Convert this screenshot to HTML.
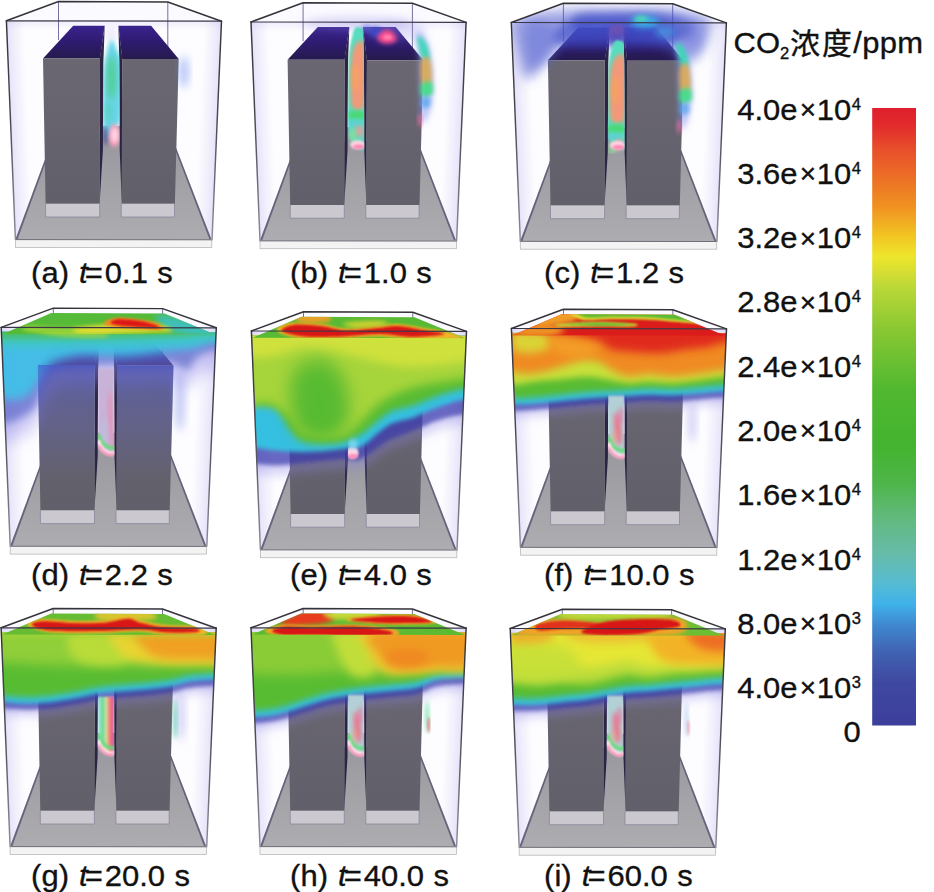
<!DOCTYPE html>
<html><head><meta charset="utf-8"><title>CO2 concentration</title>
<style>
html,body{margin:0;padding:0;background:#fff;}
body{width:934px;height:892px;overflow:hidden;}
svg{display:block;}
text{font-family:"Liberation Sans",sans-serif;fill:#111;stroke:#111;stroke-width:0.35px;}
</style></head><body>
<svg width="934" height="892" viewBox="0 0 934 892">
<defs>
<linearGradient id="gTop" x1="0" y1="25" x2="0" y2="59" gradientUnits="userSpaceOnUse">
  <stop offset="0" stop-color="#3a2390"/><stop offset="0.5" stop-color="#2e1b70"/><stop offset="1" stop-color="#261a4c"/>
</linearGradient>
<linearGradient id="gSide" x1="0" y1="20" x2="0" y2="240" gradientUnits="userSpaceOnUse">
  <stop offset="0" stop-color="#34333a"/><stop offset="0.45" stop-color="#4a4952"/><stop offset="1" stop-color="#8d8c98"/>
</linearGradient>
<linearGradient id="gFloor" x1="0" y1="140" x2="0" y2="240" gradientUnits="userSpaceOnUse">
  <stop offset="0" stop-color="#98989e"/><stop offset="1" stop-color="#adadb1"/>
</linearGradient>
<linearGradient id="gEdgeL" x1="6.4" y1="20.8" x2="23.98" y2="20.08" gradientUnits="userSpaceOnUse">
  <stop offset="0" stop-color="#8478e0" stop-opacity="0.2"/><stop offset="0.35" stop-color="#8478e0" stop-opacity="0.12"/><stop offset="1" stop-color="#8478e0" stop-opacity="0"/>
</linearGradient>
<linearGradient id="gEdgeR" x1="221.5" y1="21.2" x2="203.92" y2="20.44" gradientUnits="userSpaceOnUse">
  <stop offset="0" stop-color="#8478e0" stop-opacity="0.2"/><stop offset="0.35" stop-color="#8478e0" stop-opacity="0.12"/><stop offset="1" stop-color="#8478e0" stop-opacity="0"/>
</linearGradient>
<linearGradient id="gEdgeT" x1="0" y1="0" x2="0" y2="1">
  <stop offset="0" stop-color="#8478e0" stop-opacity="0.12"/><stop offset="1" stop-color="#8478e0" stop-opacity="0"/>
</linearGradient>
<linearGradient id="gFront" x1="0" y1="58" x2="0" y2="204" gradientUnits="userSpaceOnUse">
  <stop offset="0" stop-color="#6a6772"/><stop offset="1" stop-color="#615f69"/>
</linearGradient>
<linearGradient id="gBar" x1="0" y1="108" x2="0" y2="725.5" gradientUnits="userSpaceOnUse">
<stop offset="0.0000" stop-color="#df1f2d"/><stop offset="0.0275" stop-color="#e22a2b"/><stop offset="0.0680" stop-color="#e8502a"/><stop offset="0.1166" stop-color="#ec7226"/><stop offset="0.1603" stop-color="#f09222"/><stop offset="0.2057" stop-color="#f2c322"/><stop offset="0.2397" stop-color="#eee52c"/><stop offset="0.2656" stop-color="#d6de33"/><stop offset="0.2883" stop-color="#bcd838"/><stop offset="0.3595" stop-color="#88c832"/><stop offset="0.4567" stop-color="#50b830"/><stop offset="0.5474" stop-color="#44b32f"/><stop offset="0.6057" stop-color="#4db548"/><stop offset="0.6640" stop-color="#62ba7e"/><stop offset="0.7206" stop-color="#66bba8"/><stop offset="0.7676" stop-color="#58bcd0"/><stop offset="0.8032" stop-color="#3fb2ea"/><stop offset="0.8372" stop-color="#3f88d0"/><stop offset="0.8842" stop-color="#4060b0"/><stop offset="0.9312" stop-color="#3f48a0"/><stop offset="1.0000" stop-color="#3c3f9c"/>
</linearGradient>
<filter id="b1" x="-50%" y="-50%" width="200%" height="200%"><feGaussianBlur stdDeviation="1"/></filter>
<filter id="b2" x="-50%" y="-50%" width="200%" height="200%"><feGaussianBlur stdDeviation="2"/></filter>
<filter id="b3" x="-50%" y="-50%" width="200%" height="200%"><feGaussianBlur stdDeviation="3"/></filter>
<filter id="b4" x="-50%" y="-50%" width="200%" height="200%"><feGaussianBlur stdDeviation="4"/></filter>
<filter id="b5" x="-50%" y="-50%" width="200%" height="200%"><feGaussianBlur stdDeviation="5"/></filter>
<filter id="b10" x="-50%" y="-50%" width="200%" height="200%"><feGaussianBlur stdDeviation="10"/></filter>
<filter id="b6" x="-50%" y="-50%" width="200%" height="200%"><feGaussianBlur stdDeviation="6"/></filter>
<filter id="b8" x="-50%" y="-50%" width="200%" height="200%"><feGaussianBlur stdDeviation="8"/></filter>
<filter id="b12" x="-50%" y="-50%" width="200%" height="200%"><feGaussianBlur stdDeviation="12"/></filter>

<clipPath id="cBox"><polygon points="6.4,20.8 58.5,1.5 167.8,2 221.5,21.2 212,239.7 15.4,239.4"/></clipPath>
<clipPath id="cFront"><polygon points="6.6,25 221.3,25.6 212,239.7 15.4,239.4"/></clipPath>
<clipPath id="cTop"><polygon points="7.5,27.6 56.5,6.5 169.5,7 220.5,28"/></clipPath>
<clipPath id="cTowers"><polygon points="43,58.5 100,58.5 99.8,203.8 45.6,203.8"/><polygon points="122.2,59 178.7,59.1 174.9,203.8 121.6,203.8"/></clipPath>
<clipPath id="cGap"><polygon points="104.7,22 118.4,22 119.3,59 119.8,152 102.8,152 103.4,59"/></clipPath>
<linearGradient id="gPlA" x1="0" y1="36" x2="0" y2="148" gradientUnits="userSpaceOnUse">
 <stop offset="0" stop-color="#9ad8f0" stop-opacity="0.2"/><stop offset="0.15" stop-color="#62d6ea"/><stop offset="0.35" stop-color="#4fd0a0"/>
 <stop offset="0.55" stop-color="#55d2d8"/><stop offset="0.75" stop-color="#58cfe0"/><stop offset="0.8" stop-color="#ffb0c4"/><stop offset="1" stop-color="#ff9ab8"/>
</linearGradient>
<linearGradient id="gStripe" x1="102.8" y1="0" x2="119.7" y2="0" gradientUnits="userSpaceOnUse">
<stop offset="0" stop-color="#a6e2e2"/><stop offset="0.18" stop-color="#8ee0c0"/><stop offset="0.32" stop-color="#62d882"/><stop offset="0.48" stop-color="#c4e6b4"/>
<stop offset="0.62" stop-color="#f0a472"/><stop offset="0.8" stop-color="#ec6a8c"/><stop offset="1" stop-color="#d8509a"/></linearGradient><clipPath id="cGapLow"><polygon points="103.3,58 119.4,58 119.8,160 102.8,160"/></clipPath><linearGradient id="gTintD" x1="0" y1="55" x2="0" y2="175" gradientUnits="userSpaceOnUse">
<stop offset="0" stop-color="#3448c8" stop-opacity="0.6"/><stop offset="0.12" stop-color="#4a55d0" stop-opacity="0.45"/><stop offset="0.5" stop-color="#5a5cc8" stop-opacity="0.3"/><stop offset="1" stop-color="#5a5cc8" stop-opacity="0"/></linearGradient>
<g id="base">
  <!-- interior tint -->
  <polygon points="6.4,20.8 221.5,21.2 212,239.7 15.4,239.3" fill="#7a6ae0" fill-opacity="0.015"/>
  <polygon points="6.4,20.8 58.5,1.5 167.8,2 221.5,21.2" fill="#7a6ae0" fill-opacity="0.03"/>
  <polygon points="6.4,20.8 24,20.8 33,239.4 15.4,239.4" fill="url(#gEdgeL)"/>
  <polygon points="221.5,21.2 204,21.2 194.5,239.7 212,239.7" fill="url(#gEdgeR)"/>
  <polygon points="6.4,20.8 221.5,21.2 221.2,30 6.8,30" fill="url(#gEdgeT)"/>
  <!-- back edges -->
  <g stroke="#4a4680" stroke-width="0.9" fill="none" stroke-opacity="0.85">
    <line x1="58.5" y1="1.5" x2="58.5" y2="40"/>
    <line x1="167.8" y1="2" x2="167.8" y2="48"/>
  </g>
  <!-- floor -->
  <polygon points="15.4,239.4 211.6,239.7 173,140 52.2,140" fill="url(#gFloor)"/>
  <polygon points="15.4,239.4 52.2,140 53.7,140 17.5,239.4" fill="#4a4668" fill-opacity="0.7"/>
  <polygon points="211.6,239.7 173,140 171.5,140 209.6,239.7" fill="#4a4668" fill-opacity="0.7"/>
  <polygon points="102,126 121,126 121,141 102,141" fill="#98989e"/>
  <rect x="15.4" y="239.6" width="196.4" height="7.9" fill="#f3f3f3" stroke="#b9b9b9" stroke-width="0.8"/>
  <line x1="15.4" y1="239.6" x2="211.8" y2="239.8" stroke="#6e6d78" stroke-width="1"/>
</g>
<g id="towers">
  <!-- tower 1 -->
  <polygon points="99.8,58.5 104.7,25.7 103.4,62 102.9,150 99.6,203.8" fill="#2b2545"/>
  <polygon points="43,58.5 73.2,25.7 104.7,25.7 100,58.5" fill="url(#gTop)"/>
  <polygon points="43,58.5 100,58.5 99.8,203.8 45.6,203.8" fill="url(#gFront)"/>
  <rect x="45.6" y="203.8" width="54.1" height="13.2" fill="#cbc8cf"/>
  <path d="M45.6 203.8V217H99.7V203.8" fill="none" stroke="#8a879a" stroke-width="0.8"/>
  <!-- tower 2 -->
  <polygon points="122.4,59 118.4,25.7 119.3,62 119.7,150 121.8,203.8" fill="#2b2545"/>
  <polygon points="122.2,59 118.4,25.7 151.1,25.7 178.7,59.1" fill="url(#gTop)"/>
  <polygon points="122.2,59 178.7,59.1 174.9,203.8 121.6,203.8" fill="url(#gFront)"/>
  <rect x="121.2" y="203.8" width="53.3" height="13.2" fill="#cbc8cf"/>
  <path d="M121.2 203.8V217H174.5V203.8" fill="none" stroke="#8a879a" stroke-width="0.8"/>
</g>
<g id="frame" stroke="#34333a" stroke-width="1.45" fill="none" stroke-linejoin="round" stroke-linecap="round">
  <path d="M6.4 20.8 L58.5 1.5 L167.8 2 L221.5 21.2"/>
  <path d="M6.4 20.8 L221.5 21.2" stroke="#3a3848" stroke-width="1.2"/>
  <path d="M6.4 20.8 L15.4 239.5" stroke="url(#gSide)"/>
  <path d="M221.5 21.2 L212 239.7" stroke="url(#gSide)"/>
</g>
</defs>
<rect width="934" height="892" fill="#fff"/>
<g transform="translate(0,0)"><use href="#base"/><use href="#towers"/><g clip-path="url(#cGap)"><path d="M111 40C109.2 42.3 106.3 53.7 105 62C103.7 70.3 103.5 79 103.2 90C103 101 102.7 119.7 103.5 128C104.3 136.3 106.4 139.7 108 140C109.6 140.3 110.9 133.3 113 130C115.1 126.7 119.1 126.7 120.5 120C121.9 113.3 121.5 99.7 121.6 90C121.7 80.3 121.9 69 121 62C120.1 55 117.7 51.7 116 48C114.3 44.3 112.8 37.7 111 40Z" fill="#5fd3e6" fill-opacity="0.95" filter="url(#b2)"/><ellipse cx="106" cy="136" rx="2.6" ry="9" fill="#4a3f8c" fill-opacity="0.75" filter="url(#b2)"/><ellipse cx="111.5" cy="78" rx="4.5" ry="22" fill="#4fce8a" fill-opacity="0.9" filter="url(#b3)"/><ellipse cx="108" cy="112" rx="3.5" ry="10" fill="#52cfa8" fill-opacity="0.6" filter="url(#b3)"/><ellipse cx="114.4" cy="135.5" rx="5.4" ry="11.5" fill="#ff9dbd" filter="url(#b2)"/><ellipse cx="114.8" cy="135" rx="3.2" ry="7.5" fill="#ffe4ee" fill-opacity="0.9" filter="url(#b2)"/></g><ellipse cx="184" cy="72" rx="4.5" ry="16" fill="#5f86ee" fill-opacity="0.5" filter="url(#b4)"/><ellipse cx="111" cy="34" rx="6" ry="6" fill="#b9b2f0" fill-opacity="0.25" filter="url(#b3)"/><use href="#frame"/></g>
<g transform="translate(244.6,1.2)"><use href="#base"/><use href="#towers"/><ellipse cx="113" cy="22" rx="55" ry="7" fill="#8f86e8" fill-opacity="0.28" filter="url(#b4)"/><ellipse cx="152" cy="30" rx="30" ry="10" fill="#8f86e8" fill-opacity="0.22" filter="url(#b4)"/><g clip-path="url(#cGap)"><path d="M111.1 26C109.3 27.2 108.7 30.7 107.6 35C106.5 39.3 105.3 45.2 104.6 52C103.9 58.8 103.8 63.8 103.6 76C103.4 88.2 102.9 114 103.6 125C104.3 136 105.8 138.3 107.6 142C109.3 145.7 111.9 146.8 114.1 147C116.3 147.2 119.4 154.8 120.6 143C121.8 131.2 121.1 93.8 121.1 76C121.1 58.2 121 44 120.6 36C120.2 28 120.2 29.7 118.6 28C117 26.3 112.9 24.8 111.1 26Z" fill="#58dcc0" filter="url(#b1)"/><path d="M114.1 40C111.9 41.3 108.3 45.8 107.1 56C105.8 66.2 105.8 92.3 106.6 101C107.4 109.7 109.9 107.8 112.1 108C114.3 108.2 118.3 112 119.6 102C120.9 92 121 58.3 120.1 48C119.2 37.7 116.3 38.7 114.1 40Z" fill="#f39878" filter="url(#b2)"/><ellipse cx="111.1" cy="76" rx="4" ry="14" fill="#f6a45e" fill-opacity="0.8" filter="url(#b2)"/><ellipse cx="112.1" cy="114" rx="10" ry="4.2" fill="#4ad870" filter="url(#b2)"/><ellipse cx="110.1" cy="122" rx="8" ry="3.5" fill="#5ccfd8" fill-opacity="0.9" filter="url(#b2)"/><ellipse cx="114.6" cy="130" rx="4.5" ry="6" fill="#f09a9a" fill-opacity="0.85" filter="url(#b2)"/><ellipse cx="108.1" cy="134" rx="3.5" ry="7" fill="#8adf9a" fill-opacity="0.8" filter="url(#b2)"/><ellipse cx="113.1" cy="143.5" rx="7.5" ry="4.5" fill="#ffd3e2" filter="url(#b1)"/><ellipse cx="114.1" cy="145.5" rx="6" ry="2.2" fill="#ff7fb0" fill-opacity="0.9" filter="url(#b1)"/></g><ellipse cx="131" cy="31" rx="6.5" ry="5" fill="#3a48c8" fill-opacity="0.95" filter="url(#b2)"/><ellipse cx="122" cy="27" rx="5" ry="3" fill="#5a66d8" fill-opacity="0.7" filter="url(#b2)"/><path d="M133 35C133.7 33 137.5 29.7 140 29C142.5 28.3 146 29.5 148 31C150 32.5 152.3 36.2 152 38C151.7 39.8 148.7 41.5 146 42C143.3 42.5 138.2 42.2 136 41C133.8 39.8 132.3 37 133 35Z" fill="#ff4f90" filter="url(#b2)"/><ellipse cx="143" cy="36" rx="4" ry="2.5" fill="#ff86b0" fill-opacity="0.9" filter="url(#b1)"/><path d="M172 31C173.3 28.2 179.5 34 182 39C184.5 44 186 52.3 187 61C188 69.7 188.5 82.3 188 91C187.5 99.7 185.8 108 184 113C182.2 118 178.5 124.7 177 121C175.5 117.3 175.5 101.8 175 91C174.5 80.2 174.5 66 174 56C173.5 46 170.7 33.8 172 31Z" fill="#7f8df0" fill-opacity="0.55" filter="url(#b3)"/><path d="M173 35C174 33.7 179 37.3 181 41C183 44.7 185.3 54 185 57C184.7 60 180.7 60.3 179 59C177.3 57.7 176 53 175 49C174 45 172 36.3 173 35Z" fill="#38d8b4" fill-opacity="0.95" filter="url(#b2)"/><path d="M176.5 59C177.8 54.8 183.2 54.3 185 58C186.8 61.7 188.3 76.8 187 81C185.7 85.2 178.8 86.7 177 83C175.2 79.3 175.2 63.2 176.5 59Z" fill="#d8aa58" fill-opacity="0.95" filter="url(#b2)"/><path d="M176.5 83C178.2 80.7 185.2 79.3 187 81C188.8 82.7 189.2 90.7 187.5 93C185.8 95.3 178.8 96.7 177 95C175.2 93.3 174.8 85.3 176.5 83Z" fill="#44dc88" fill-opacity="0.95" filter="url(#b2)"/><ellipse cx="181" cy="101" rx="5" ry="6" fill="#58a8f0" fill-opacity="0.8" filter="url(#b2)"/><ellipse cx="175.5" cy="119" rx="1.8" ry="7" fill="#ff6aa0" fill-opacity="0.8" filter="url(#b2)"/><use href="#frame"/></g>
<g transform="translate(504.9,1.7)"><use href="#base"/><use href="#towers"/><g clip-path="url(#cBox)"><path d="M10 18C18 11 43.3 9.7 60 8C76.7 6.3 91.7 8 110 8C128.3 8 154.2 6.3 170 8C185.8 9.7 200 12.7 205 18C210 23.3 203.3 33 200 40C196.7 47 193.3 60 185 60C176.7 60 164.2 44 150 40C135.8 36 115 36 100 36C85 36 70 36 60 40C50 44 46.3 53.7 40 60C33.7 66.3 26.7 79.7 22 78C17.3 76.3 14 60 12 50C10 40 2 25 10 18Z" fill="#5560d0" fill-opacity="0.55" filter="url(#b6)"/><path d="M70 14C76.3 10.7 95 10.3 110 10C125 9.7 147 10 160 12C173 14 184.7 17.7 188 22C191.3 26.3 188 36 180 38C172 40 153.3 35.3 140 34C126.7 32.7 111.3 30.7 100 30C88.7 29.3 77 32.7 72 30C67 27.3 63.7 17.3 70 14Z" fill="#3d4cc4" fill-opacity="0.6" filter="url(#b4)"/><path d="M20 24C23.5 16.7 39.2 19.3 45 22C50.8 24.7 55.8 33.3 55 40C54.2 46.7 45.2 57.7 40 62C34.8 66.3 27.3 72.3 24 66C20.7 59.7 16.5 31.3 20 24Z" fill="#4a5ad0" fill-opacity="0.4" filter="url(#b6)"/><path d="M62 20C72 15.8 95.7 17 112 17C128.3 17 150 16.2 160 20C170 23.8 180 35.8 172 40C164 44.2 132 44.7 112 45C92 45.3 60.3 46.2 52 42C43.7 37.8 52 24.2 62 20Z" fill="#3a4cc8" fill-opacity="0.62" filter="url(#b4)"/><ellipse cx="111.5" cy="34" rx="9" ry="10" fill="#4a3fb4" fill-opacity="0.75" filter="url(#b3)"/><ellipse cx="190" cy="36" rx="12" ry="16" fill="#6a74dc" fill-opacity="0.4" filter="url(#b6)"/><ellipse cx="140" cy="20" rx="14" ry="6" fill="#36b8e8" fill-opacity="0.9" filter="url(#b3)"/><ellipse cx="136" cy="17" rx="7" ry="3" fill="#52e0b0" fill-opacity="0.9" filter="url(#b2)"/><ellipse cx="112" cy="28" rx="8" ry="5" fill="#a05aa0" fill-opacity="0.45" filter="url(#b3)"/><ellipse cx="160" cy="30" rx="10" ry="6" fill="#48a8e8" fill-opacity="0.6" filter="url(#b3)"/></g><g clip-path="url(#cGap)"><path d="M110.5 39C108.5 40.2 107.5 43.7 106.3 48C105.1 52.3 104 58.2 103.3 65C102.6 71.8 102.5 79 102.3 89C102.1 99 101.6 116.2 102.3 125C103 133.8 104.4 138.3 106.3 142C108.2 145.7 111.1 146.8 113.5 147C116 147.2 119.5 152.7 120.8 143C122.1 133.3 121.3 104.7 121.3 89C121.3 73.3 121.2 57 120.8 49C120.4 41 120.5 42.7 118.8 41C117.1 39.3 112.6 37.8 110.5 39Z" fill="#58dcc0" filter="url(#b1)"/><path d="M113.5 53C111.1 54.3 107.2 58.8 105.8 69C104.4 79.2 104.3 105.3 105.3 114C106.3 122.7 109.1 120.8 111.5 121C114 121.2 118.3 125 119.8 115C121.3 105 121.3 71.3 120.3 61C119.3 50.7 116 51.7 113.5 53Z" fill="#f39878" filter="url(#b2)"/><ellipse cx="110.5" cy="89" rx="4" ry="14" fill="#f6a45e" fill-opacity="0.8" filter="url(#b2)"/><ellipse cx="111.5" cy="127" rx="10" ry="4.2" fill="#4ad870" filter="url(#b2)"/><ellipse cx="109.5" cy="135" rx="8" ry="3.5" fill="#5ccfd8" fill-opacity="0.9" filter="url(#b2)"/><ellipse cx="114" cy="143" rx="4.5" ry="6" fill="#f09a9a" fill-opacity="0.85" filter="url(#b2)"/><ellipse cx="107.5" cy="147" rx="3.5" ry="7" fill="#8adf9a" fill-opacity="0.8" filter="url(#b2)"/><ellipse cx="112.5" cy="143.5" rx="7.5" ry="4.5" fill="#ffd3e2" filter="url(#b1)"/><ellipse cx="113.5" cy="145.5" rx="6" ry="2.2" fill="#ff7fb0" fill-opacity="0.9" filter="url(#b1)"/></g><path d="M170.5 37C171.8 34.2 178 40 180.5 45C183 50 184.5 58.3 185.5 67C186.5 75.7 187 88.3 186.5 97C186 105.7 184.3 114 182.5 119C180.7 124 177 130.7 175.5 127C174 123.3 174 107.8 173.5 97C173 86.2 173 72 172.5 62C172 52 169.2 39.8 170.5 37Z" fill="#7f8df0" fill-opacity="0.55" filter="url(#b3)"/><path d="M171.5 41C172.5 39.7 177.5 43.3 179.5 47C181.5 50.7 183.8 60 183.5 63C183.2 66 179.2 66.3 177.5 65C175.8 63.7 174.5 59 173.5 55C172.5 51 170.5 42.3 171.5 41Z" fill="#38d8b4" fill-opacity="0.95" filter="url(#b2)"/><path d="M175 65C176.3 60.8 181.8 60.3 183.5 64C185.2 67.7 186.8 82.8 185.5 87C184.2 91.2 177.2 92.7 175.5 89C173.8 85.3 173.7 69.2 175 65Z" fill="#d8aa58" fill-opacity="0.95" filter="url(#b2)"/><path d="M175 89C176.7 86.7 183.7 85.3 185.5 87C187.3 88.7 187.7 96.7 186 99C184.3 101.3 177.3 102.7 175.5 101C173.7 99.3 173.3 91.3 175 89Z" fill="#44dc88" fill-opacity="0.95" filter="url(#b2)"/><ellipse cx="179.5" cy="107" rx="5" ry="6" fill="#58a8f0" fill-opacity="0.8" filter="url(#b2)"/><ellipse cx="174" cy="125" rx="1.8" ry="7" fill="#ff6aa0" fill-opacity="0.8" filter="url(#b2)"/><use href="#frame"/></g>
<g transform="translate(-5.2,306.6)"><use href="#base"/><use href="#towers"/><g clip-path="url(#cFront)"><path d="M-30 135.6C-23.3 135.6 0.2 136.8 10.1 135.6C20.1 134.4 24.5 131.3 29.8 128.2C35.2 125.1 38.6 122.9 42.1 117.1C45.6 111.4 46.7 100.1 50.8 93.7C54.9 87.4 57.9 81.7 66.8 79C75.6 76.3 89.3 78 103.7 77.5C118.1 77 140.6 76.4 152.9 76C165.3 75.6 171 74.3 177.6 75.3C184.1 76.3 188.2 82.7 192.3 81.9C196.5 81.1 197.7 73.5 202.2 70.3C206.7 67.2 209.8 64.2 219.4 63C229.1 61.7 253.2 63 260 63L260 -30L-30 -30Z" fill="#8c84e6" fill-opacity="0.42" filter="url(#b8)"/><path d="M-30 116.6C-23.3 116.6 0.2 117.8 10.1 116.6C20.1 115.4 24.5 112.3 29.8 109.2C35.2 106.1 38.6 103.9 42.1 98.1C45.6 92.4 46.7 81.1 50.8 74.7C54.9 68.4 57.9 62.7 66.8 60C75.6 57.3 89.3 59 103.7 58.5C118.1 58 140.6 57.4 152.9 57C165.3 56.6 171 55.3 177.6 56.3C184.1 57.3 188.2 63.7 192.3 62.9C196.5 62.1 197.7 54.5 202.2 51.3C206.7 48.2 209.8 45.2 219.4 44C229.1 42.7 253.2 44 260 44L260 -30L-30 -30Z" fill="#4a58c4" fill-opacity="0.62" filter="url(#b4)"/><path d="M-30 93.1C-23.3 93.1 0.2 93.5 10.1 93.1C20.1 92.7 24.5 93.3 29.8 90.7C35.2 88 38 82.6 42.1 77.1C46.2 71.7 48.3 62.5 54.4 57.9C60.6 53.3 70.9 51.1 79.1 49.5C87.3 48 95.5 48.6 103.7 48.6C111.9 48.6 120.1 49.8 128.3 49.5C136.5 49.3 144.7 48 152.9 47.1C161.2 46.1 169.4 44.9 177.6 43.9C185.8 42.8 195.2 42.3 202.2 40.7C209.2 39 209.8 35.1 219.4 34C229.1 32.9 253.2 34 260 34L260 -30L-30 -30Z" fill="#42c0e8" fill-opacity="0.95" filter="url(#b4)"/><path d="M-30 40.3C-23.3 40.3 -3.9 40.3 10.1 40.3C24.2 40.3 38.9 40.4 54.4 40.3C70 40.2 87.3 40.1 103.7 39.8C120.1 39.6 138.6 39.2 152.9 38.8C167.3 38.4 178.8 38 189.9 37.4C201 36.7 207.7 35.3 219.4 34.9C231.1 34.5 253.2 34.9 260 34.9L260 -30L-30 -30Z" fill="#3ec8c4" fill-opacity="0.9" filter="url(#b4)"/><path d="M-30 32.3C-23.3 32.3 -3.9 32.3 10.1 32.3C24.2 32.3 38.9 32.4 54.4 32.3C70 32.2 87.3 32.1 103.7 31.8C120.1 31.6 138.6 31.2 152.9 30.8C167.3 30.4 178.8 30 189.9 29.4C201 28.7 207.7 27.3 219.4 26.9C231.1 26.5 253.2 26.9 260 26.9L260 -30L-30 -30Z" fill="#48c070" filter="url(#b3)"/></g><rect x="40" y="55" width="142" height="130" fill="url(#gTintD)" clip-path="url(#cTowers)"/><g clip-path="url(#cTop)"><rect x="0" y="0" width="230" height="30" fill="#54ba38"/><path d="M162.8 8.2C170.2 7.4 212.5 16.8 221.9 20.5C231.3 24.2 226.8 29.5 219.4 30.3C212 31.2 187 29.1 177.6 25.4C168.1 21.7 155.4 9 162.8 8.2Z" fill="#3cc0c8" fill-opacity="0.9" filter="url(#b3)"/><path d="M29.8 19.3C35.2 18.6 53.6 20.9 66.8 21C79.9 21.1 100.8 19.6 108.6 20C116.4 20.4 118.5 22.3 113.5 23.4C108.6 24.5 92.2 26.4 79.1 26.6C65.9 26.9 43 26.2 34.7 24.9C26.5 23.7 24.5 19.9 29.8 19.3Z" fill="#a8d83a" fill-opacity="0.9" filter="url(#b2)"/><path d="M79.1 22.5C83.2 20.8 102.1 19.1 111.1 18C120.1 17 124.6 16.1 133.2 16.1C141.9 16.1 155.4 16.7 162.8 18C170.2 19.4 179.2 22.9 177.6 24.2C175.9 25.5 164 25.3 152.9 25.9C141.9 26.5 122.2 27.5 111.1 27.9C100 28.2 91.8 28.8 86.5 27.9C81.1 27 75 24.1 79.1 22.5Z" fill="#e4dc30" fill-opacity="0.95" filter="url(#b2)"/><path d="M108.6 16.8C108.6 15.2 115.2 11.8 120.9 11.1C126.7 10.4 136.1 11.7 143.1 12.6C150.1 13.6 158.7 15.1 162.8 16.8C166.9 18.5 171 22 167.7 22.9C164.4 23.9 150.9 22.9 143.1 22.5C135.3 22 126.7 21.4 120.9 20.5C115.2 19.5 108.6 18.4 108.6 16.8Z" fill="#f08a20" filter="url(#b1)"/><path d="M116 16.1C115.6 15 118.9 12.9 123.4 12.6C127.9 12.3 137.1 13.2 143.1 14.1C149 15 155.8 16.8 159.1 18C162.4 19.3 165.5 21.1 162.8 21.5C160.1 21.9 149.3 20.9 143.1 20.5C136.9 20.1 130.4 19.7 125.9 19C121.3 18.3 116.4 17.1 116 16.1Z" fill="#dc1414" filter="url(#b1)"/></g><g clip-path="url(#cFront)"><path d="M42.1 24.9C44.2 24.3 67.6 25.5 79.1 25.9C90.6 26.3 106.2 26.6 111.1 27.4C116 28.1 116 30 108.6 30.3C101.2 30.7 77.8 30.3 66.8 29.4C55.7 28.4 40.1 25.5 42.1 24.9Z" fill="#b8dc3a" fill-opacity="0.8" filter="url(#b2)"/></g><g clip-path="url(#cGapLow)"><path d="M102.8 62L103.1 133.5Q104.8 143.5 112.25 147.0Q117.7 149.0 119.2 145.5L119.7 62Z" fill="#c8b2d8" filter="url(#b1)"/><ellipse cx="116.2" cy="114.2" rx="2" ry="31.2" fill="#f088a8" fill-opacity="0.8" filter="url(#b2)" transform="rotate(-3 116.2 114.2)"/><ellipse cx="109.2" cy="129.2" rx="3" ry="18" fill="#b8c4dc" fill-opacity="0.6" filter="url(#b2)"/><path d="M103.3 127.5Q105.8 137.5 113.25 140.5T118.7 139.5" fill="none" stroke="#66dc7a" stroke-width="4" stroke-opacity="0.9" filter="url(#b1)"/><path d="M103.2 133.5Q105.3 143.0 112.25 146.0T118.7 144.5" fill="none" stroke="#ffe6ee" stroke-width="4.2" filter="url(#b1)"/><path d="M104.3 138.5Q106.8 145.5 112.75 147.7T118.2 146.0" fill="none" stroke="#ff7aa8" stroke-width="2" stroke-opacity="0.9" filter="url(#b1)"/></g><ellipse cx="185" cy="95" rx="5" ry="30" fill="#7d8ae8" fill-opacity="0.45" filter="url(#b4)"/><use href="#frame"/></g>
<g transform="translate(245,310.2)"><use href="#base"/><use href="#towers"/><g clip-path="url(#cFront)"><path d="M-30 163.6C-24 163.6 -4.2 163.3 6.1 163.6C16.4 163.8 23.5 165.4 31.9 165.3C40.4 165.2 48.4 163.6 56.6 162.8C64.8 162 73.8 161 81.2 160.4C88.6 159.7 95.5 158.7 100.9 158.6C106.2 158.5 109.1 160.9 113.2 159.9C117.3 158.8 120.6 155.7 125.5 152.5C130.4 149.3 136.6 143.9 142.7 140.7C148.9 137.4 156.3 135.2 162.4 132.8C168.6 130.3 174.8 127.9 179.7 125.9C184.6 123.8 185.2 122.4 192 120.5C198.8 118.5 209 115.3 220.3 114.3C231.6 113.3 253.4 114.3 260 114.3L260 -30L-30 -30Z" fill="#8c84e6" fill-opacity="0.32" filter="url(#b5)"/><path d="M-30 153.6C-24 153.6 -4.2 153.3 6.1 153.6C16.4 153.8 23.5 155.4 31.9 155.3C40.4 155.2 48.4 153.6 56.6 152.8C64.8 152 73.8 151 81.2 150.4C88.6 149.7 95.5 148.7 100.9 148.6C106.2 148.5 109.1 150.9 113.2 149.9C117.3 148.8 120.6 145.7 125.5 142.5C130.4 139.3 136.6 133.9 142.7 130.7C148.9 127.4 156.3 125.2 162.4 122.8C168.6 120.3 174.8 117.9 179.7 115.9C184.6 113.8 185.2 112.4 192 110.5C198.8 108.5 209 105.3 220.3 104.3C231.6 103.3 253.4 104.3 260 104.3L260 -30L-30 -30Z" fill="#3434a8" fill-opacity="0.6839999999999999" filter="url(#b2)"/><path d="M-30 137.5C-24 137.5 -4.2 137.1 6.1 137.5C16.4 138 23.5 139.8 31.9 140.5C40.4 141.2 48.4 141.7 56.6 141.7C64.8 141.7 73.8 141.1 81.2 140.5C88.6 139.9 94.7 138.9 100.9 138C107 137.1 112.8 137.6 118.1 135.1C123.5 132.5 128 126.5 132.9 122.8C137.8 119.1 141.9 115.5 147.7 112.9C153.4 110.4 160.8 109.8 167.4 107.5C173.9 105.2 180.9 101.8 187.1 99.4C193.2 97 198.8 94.9 204.3 93.2C209.8 91.6 211 90.1 220.3 89.5C229.6 88.9 253.4 89.5 260 89.5L260 -30L-30 -30Z" fill="#35bfe0" filter="url(#b2)"/><path d="M-30 95.7C-24 95.7 -2.2 95.6 6.1 95.7C14.4 95.8 15.3 95.6 19.6 96.2C23.9 96.8 27.8 95.8 31.9 99.4C36 103 40.1 112.7 44.2 117.8C48.4 123 50.4 127.6 56.6 130.2C62.7 132.7 73.8 133 81.2 133.1C88.6 133.2 94.7 132.4 100.9 130.7C107 128.9 112.8 126.1 118.1 122.8C123.5 119.4 128 114.2 132.9 110.5C137.8 106.8 141.9 103.1 147.7 100.6C153.4 98.1 160.8 97.8 167.4 95.7C173.9 93.6 180.9 90.1 187.1 87.8C193.2 85.5 198.8 83.6 204.3 82.1C209.8 80.7 211 79.5 220.3 78.9C229.6 78.4 253.4 78.9 260 78.9L260 -30L-30 -30Z" fill="#58bc30" filter="url(#b3)"/><path d="M-30 94.5C-24 94.5 -3 94.7 6.1 94.5C15.2 94.2 18.2 91.2 24.5 93.2C30.9 95.3 38.9 101.8 44.2 106.8C49.6 111.7 50.4 119.4 56.6 122.8C62.7 126.1 73.8 126.5 81.2 126.7C88.6 126.9 94.7 126.9 100.9 124C107 121.1 112.8 114.2 118.1 109.2C123.5 104.3 126.7 99 132.9 94.5C139.1 89.9 147.3 85.4 155.1 82.1C162.9 78.9 171.5 76.6 179.7 74.8C187.9 72.9 197.5 72.1 204.3 71.1C211.1 70 211 69 220.3 68.6C229.6 68.2 253.4 68.6 260 68.6L260 -30L-30 -30Z" fill="#a6d43a" filter="url(#b5)"/><path d="M52.9 55.1C58.2 50.7 69.1 46.6 76.3 47.7C83.4 48.7 91.2 54.4 96 61.2C100.7 68 103.8 78.9 104.6 88.3C105.4 97.7 105.2 111.3 100.9 117.8C96.6 124.4 86.1 126.7 78.7 127.7C71.3 128.7 62.1 128.5 56.6 124C51 119.5 47.5 109 45.5 100.6C43.4 92.2 43 81.1 44.2 73.5C45.5 65.9 47.5 59.4 52.9 55.1Z" fill="#62be32" fill-opacity="0.95" filter="url(#b8)"/><path d="M59 71.1C62.3 63.7 73 60.8 78.7 63.7C84.5 66.5 91.4 80.1 93.5 88.3C95.5 96.5 94.3 107.6 91 112.9C87.8 118.3 79.1 121.1 73.8 120.3C68.5 119.5 61.5 116.2 59 108C56.6 99.8 55.7 78.4 59 71.1Z" fill="#54ba2e" fill-opacity="0.8" filter="url(#b6)"/><path d="M-30 47.7C-24 47.7 -4.2 48.1 6.1 47.7C16.4 47.3 23.5 46.8 31.9 45.2C40.4 43.6 48.4 38.8 56.6 37.8C64.8 36.8 73 37.8 81.2 39C89.4 40.3 97.6 43.2 105.8 45.2C114 47.3 122.2 49.5 130.4 51.4C138.6 53.2 146.9 55.5 155.1 56.3C163.3 57.1 171.5 56.7 179.7 56.3C187.9 55.9 197.5 54.6 204.3 53.8C211.1 53 211 51.8 220.3 51.4C229.6 51 253.4 51.4 260 51.4L260 -30L-30 -30Z" fill="#d2e23c" fill-opacity="0.95" filter="url(#b5)"/></g><g clip-path="url(#cTop)"><rect x="0" y="0" width="230" height="30" fill="#58ba34"/><path d="M51.6 5.1C55.7 3.7 75.9 3 81.2 4.1C86.5 5.1 87.8 10.1 83.6 11.5C79.5 12.9 61.9 13.5 56.6 12.5C51.2 11.4 47.5 6.5 51.6 5.1Z" fill="#f0a028" fill-opacity="0.95" filter="url(#b2)"/><path d="M98.4 13.2C101.7 12.1 125.5 10.5 132.9 10.7C140.3 10.9 146 13.3 142.7 14.4C139.5 15.5 120.6 17.6 113.2 17.4C105.8 17.2 95.1 14.3 98.4 13.2Z" fill="#e8d830" fill-opacity="0.9" filter="url(#b2)"/><path d="M31.9 20.8C29.9 18.2 36.9 14.1 44.2 12.9C51.6 11.8 66.8 13 76.3 13.9C85.7 14.8 91.4 18 100.9 18.4C110.3 18.7 124.3 16.6 132.9 15.9C141.5 15.2 144.4 13.5 152.6 13.9C160.8 14.3 173.1 16.9 182.1 18.4C191.2 19.8 201 21.2 206.8 22.8C212.5 24.4 223.2 27.2 216.6 28.2C210.1 29.2 181.3 29 167.4 28.7C153.4 28.4 145.2 26.3 132.9 26.2C120.6 26.2 106.2 27.8 93.5 28.2C80.8 28.6 66.8 29.9 56.6 28.7C46.3 27.5 34 23.5 31.9 20.8Z" fill="#f0b428" filter="url(#b1)"/><path d="M36.9 20.8C35 18.9 41.4 15.5 47.9 14.7C54.5 13.8 67.4 15 76.3 15.9C85.1 16.8 91.4 20 100.9 20.3C110.3 20.7 124.3 18.6 132.9 17.9C141.5 17.1 145.2 15.6 152.6 15.9C160 16.2 169.4 18.5 177.2 19.8C185 21.2 201 22.6 199.4 23.8C197.7 24.9 178 26.7 167.4 26.7C156.7 26.7 146.9 23.9 135.4 23.8C123.9 23.7 111.1 25.8 98.4 26.2C85.7 26.7 69.3 27.1 59 26.2C48.8 25.3 38.7 22.8 36.9 20.8Z" fill="#d81418" filter="url(#b1)"/></g><g clip-path="url(#cGapLow)"><ellipse cx="107.5" cy="142.5" rx="6" ry="6" fill="#ffd8e6" filter="url(#b1)"/><ellipse cx="108" cy="146" rx="5" ry="2.5" fill="#ff86b6" fill-opacity="0.9" filter="url(#b1)"/><ellipse cx="108" cy="134" rx="5" ry="5" fill="#7fd8f0" fill-opacity="0.9" filter="url(#b2)"/></g><use href="#frame"/></g>
<g transform="translate(505,307.7)"><use href="#base"/><use href="#towers"/><g clip-path="url(#cFront)"><path d="M-30 110.3C-23.8 110.3 -3 110.5 7.3 110.3C17.6 110.1 23.7 109.7 31.9 109.1C40.1 108.5 48.4 107.4 56.6 106.6C64.8 105.8 73.8 104.8 81.2 104.1C88.6 103.5 93.9 103.3 100.9 102.9C107.9 102.5 116.1 102.1 123 101.7C130 101.3 135.4 100.6 142.7 100.4C150.1 100.3 159.2 101.1 167.4 100.9C175.6 100.7 183.2 99.9 192 99.2C200.8 98.5 209 97.2 220.3 96.8C231.6 96.3 253.4 96.8 260 96.8L260 -30L-30 -30Z" fill="#8c84e6" fill-opacity="0.32" filter="url(#b5)"/><path d="M-30 103.3C-23.8 103.3 -3 103.5 7.3 103.3C17.6 103.1 23.7 102.7 31.9 102.1C40.1 101.5 48.4 100.4 56.6 99.6C64.8 98.8 73.8 97.8 81.2 97.1C88.6 96.5 93.9 96.3 100.9 95.9C107.9 95.5 116.1 95.1 123 94.7C130 94.3 135.4 93.6 142.7 93.4C150.1 93.3 159.2 94.1 167.4 93.9C175.6 93.7 183.2 92.9 192 92.2C200.8 91.5 209 90.2 220.3 89.8C231.6 89.3 253.4 89.8 260 89.8L260 -30L-30 -30Z" fill="#3434a8" fill-opacity="0.6839999999999999" filter="url(#b2)"/><path d="M-30 97C-23.8 97 -3 97.2 7.3 97C17.6 96.8 23.7 96.4 31.9 95.8C40.1 95.2 48.4 94.1 56.6 93.3C64.8 92.5 73.8 91.5 81.2 90.8C88.6 90.2 93.9 90 100.9 89.6C107.9 89.2 116.1 88.8 123 88.4C130 88 135.4 87.3 142.7 87.1C150.1 87 159.2 87.8 167.4 87.6C175.6 87.4 183.2 86.6 192 85.9C200.8 85.2 209 83.9 220.3 83.5C231.6 83 253.4 83.5 260 83.5L260 -30L-30 -30Z" fill="#35bfe0" filter="url(#b2)"/><path d="M-30 90.8C-23.8 90.8 -3 91 7.3 90.8C17.6 90.6 23.7 90.2 31.9 89.6C40.1 89 48.4 87.9 56.6 87.1C64.8 86.3 73.8 85.3 81.2 84.6C88.6 84 93.9 83.8 100.9 83.4C107.9 83 116.1 82.6 123 82.2C130 81.8 135.4 81.1 142.7 80.9C150.1 80.8 159.2 81.6 167.4 81.4C175.6 81.2 183.2 80.4 192 79.7C200.8 79 209 77.7 220.3 77.3C231.6 76.8 253.4 77.3 260 77.3L260 -30L-30 -30Z" fill="#58bc30" filter="url(#b3)"/><path d="M-30 77.3C-23.8 77.3 -3 77.9 7.3 77.3C17.6 76.6 23.7 74.5 31.9 73.6C40.1 72.6 48.4 72.3 56.6 71.6C64.8 70.9 73.8 69.1 81.2 69.1C88.6 69.1 93.9 70.5 100.9 71.6C107.9 72.7 116.1 75.1 123 75.5C130 75.9 135.4 74.1 142.7 74.1C150.1 74 159.2 75.5 167.4 75.3C175.6 75.1 183.2 73.8 192 72.8C200.8 71.8 209 69.7 220.3 69.1C231.6 68.5 253.4 69.1 260 69.1L260 -30L-30 -30Z" fill="#c8e03a" filter="url(#b3)"/><path d="M-30 63.7C-23.8 63.7 -1 63.3 7.3 63.7C15.6 64.1 14.3 66.2 19.6 66.2C25 66.2 33.2 64.9 39.3 63.7C45.5 62.5 50.4 60.6 56.6 58.8C62.7 56.9 70.1 53.5 76.3 52.6C82.4 51.8 88.6 52.3 93.5 53.9C98.4 55.4 100.9 59.3 105.8 61.7C110.7 64.2 116.9 67.9 123 68.6C129.2 69.4 135.4 66.2 142.7 66.2C150.1 66.2 159.2 68.6 167.4 68.6C175.6 68.6 183.2 67.2 192 66.2C200.8 65.1 209 63.1 220.3 62.5C231.6 61.9 253.4 62.5 260 62.5L260 -30L-30 -30Z" fill="#f08a22" filter="url(#b4)"/><path d="M-30 21.8C-23.8 21.8 -5.1 21.2 7.3 21.8C19.7 22.5 34 24.3 44.2 25.5C54.5 26.8 60.7 28 68.9 29.2C77.1 30.5 87.3 30.9 93.5 32.9C99.7 35 99.7 39.6 105.8 41.5C112 43.5 122.2 43.8 130.4 44.5C138.6 45.2 146.9 45.9 155.1 45.5C163.3 45.1 171.5 43.1 179.7 42C187.9 41 197.5 40.3 204.3 39.1C211.1 37.9 211 35.4 220.3 34.7C229.6 33.9 253.4 34.7 260 34.7L260 -30L-30 -30Z" fill="#e02a1a" filter="url(#b4)"/><path d="M8.5 25.5C11.6 22.7 21.1 23.7 27 24.3C33 24.9 41.8 26.4 44.2 29.2C46.7 32.1 45.5 38.9 41.8 41.5C38.1 44.2 27.6 45.2 22.1 45.2C16.5 45.2 10.8 44.8 8.5 41.5C6.3 38.3 5.5 28.4 8.5 25.5Z" fill="#d8dc38" fill-opacity="0.9" filter="url(#b4)"/><path d="M44.2 29.2C48.4 27 68.1 29.6 76.3 31.7C84.5 33.8 93.5 38.5 93.5 41.5C93.5 44.6 83.2 49.6 76.3 50.2C69.3 50.8 57 48.7 51.6 45.2C46.3 41.8 40.1 31.5 44.2 29.2Z" fill="#f4a024" fill-opacity="0.8" filter="url(#b4)"/></g><g clip-path="url(#cTop)"><rect x="0" y="0" width="230" height="30" fill="#da1c1a"/><path d="M44.2 3.4C50.4 0.8 64.4 1.2 68.9 2.6C73.4 4.1 74.2 9.6 71.3 12C68.5 14.4 58.2 15.9 51.6 16.9C45.1 18 33.2 20.4 31.9 18.2C30.7 15.9 38.1 6 44.2 3.4Z" fill="#f0a428" fill-opacity="0.95" filter="url(#b2)"/><path d="M4.8 26.8C7.3 24.7 16.8 18.6 24.5 16.9C32.3 15.3 45.9 15.9 51.6 16.9C57.4 18 60.3 21 59 23.1C57.8 25.1 52.5 28.2 44.2 29.2C36 30.3 16.3 29.6 9.8 29.2C3.2 28.8 2.4 28.8 4.8 26.8Z" fill="#f09a24" fill-opacity="0.95" filter="url(#b3)"/><path d="M66.4 2.1C73.4 0.4 100.5 1.7 118.1 1.7C135.8 1.7 157.5 -0.2 172.3 2.1C187.1 4.5 205.1 13.6 206.8 15.7C208.4 17.8 192.8 15.6 182.1 15C171.5 14.3 155.5 12.6 142.7 12C130 11.4 116.9 11.5 105.8 11.5C94.7 11.5 82.8 13.6 76.3 12C69.7 10.4 59.4 3.9 66.4 2.1Z" fill="#e0d832" filter="url(#b1)"/><path d="M73.8 3.1C80 2 102.1 2.6 118.1 2.6C134.1 2.7 156.7 1.8 169.8 3.6C183 5.4 195.7 12 196.9 13.5C198.2 15 186.3 13.1 177.2 12.5C168.2 11.8 154.6 10.1 142.7 9.5C130.8 9 116.1 9 105.8 9C95.5 9 86.5 10.5 81.2 9.5C75.9 8.6 67.6 4.3 73.8 3.1Z" fill="#58ba34" filter="url(#b1)"/><path d="M54.1 15.9C60.3 15 81 14 93.5 14C106 14 123.5 15.1 129.2 15.9C134.9 16.8 133.9 18.4 128 18.9C122 19.4 105.4 18.8 93.5 18.9C81.6 19 63.1 19.9 56.6 19.4C50 18.9 47.9 16.8 54.1 15.9Z" fill="#c8c830" filter="url(#b1)"/><path d="M59 16.4C59 16 82.2 15.2 93.5 15.2C104.8 15.2 126.7 16.2 126.7 16.7C126.7 17.1 104.8 18 93.5 17.9C82.2 17.9 59 16.9 59 16.4Z" fill="#58ba34" filter="url(#b1)"/></g><g clip-path="url(#cGapLow)"><path d="M102.8 88L103.1 135Q104.8 145 112.25 148.5Q117.7 150.5 119.2 147L119.7 88Z" fill="#b2d0d6" filter="url(#b1)"/><ellipse cx="112.8" cy="121" rx="3.6" ry="17" fill="#f07088" fill-opacity="0.9" filter="url(#b2)" transform="rotate(-6 112.8 121)"/><ellipse cx="108.8" cy="131" rx="2.2" ry="9" fill="#f4a070" fill-opacity="0.6" filter="url(#b2)" transform="rotate(8 108.8 131)"/><ellipse cx="115.8" cy="108" rx="2.2" ry="9" fill="#e86a9a" fill-opacity="0.7" filter="url(#b2)"/><path d="M103.3 129Q105.8 139 113.25 142T118.7 141" fill="none" stroke="#66dc7a" stroke-width="4" stroke-opacity="0.9" filter="url(#b1)"/><path d="M103.2 135Q105.3 144.5 112.25 147.5T118.7 146" fill="none" stroke="#ffe6ee" stroke-width="4.2" filter="url(#b1)"/><path d="M104.3 140Q106.8 147 112.75 149.2T118.2 147.5" fill="none" stroke="#ff7aa8" stroke-width="2" stroke-opacity="0.9" filter="url(#b1)"/></g><ellipse cx="187" cy="115" rx="4" ry="20" fill="#8c84e6" fill-opacity="0.4" filter="url(#b4)"/><use href="#frame"/></g>
<g transform="translate(-5.3,607)"><use href="#base"/><use href="#towers"/><g clip-path="url(#cFront)"><path d="M-30 108.5C-23.7 108.5 -2.2 108.3 7.8 108.5C17.7 108.7 22.1 109.8 29.9 109.8C37.7 109.8 46.3 109.4 54.5 108.5C62.8 107.7 71 106.3 79.2 104.8C87.4 103.4 95.6 101.1 103.8 99.9C112 98.7 120.2 98.2 128.4 97.5C136.6 96.7 144.8 96.3 153 95.5C161.3 94.6 171.1 93.5 177.7 92.3C184.2 91.1 185.9 89.4 192.4 88.3C199 87.3 205.8 86.3 217.1 85.9C228.3 85.5 252.8 85.9 260 85.9L260 -30L-30 -30Z" fill="#8c84e6" fill-opacity="0.32" filter="url(#b5)"/><path d="M-30 101.5C-23.7 101.5 -2.2 101.3 7.8 101.5C17.7 101.7 22.1 102.8 29.9 102.8C37.7 102.8 46.3 102.4 54.5 101.5C62.8 100.7 71 99.3 79.2 97.8C87.4 96.4 95.6 94.1 103.8 92.9C112 91.7 120.2 91.2 128.4 90.5C136.6 89.7 144.8 89.3 153 88.5C161.3 87.6 171.1 86.5 177.7 85.3C184.2 84.1 185.9 82.4 192.4 81.3C199 80.3 205.8 79.3 217.1 78.9C228.3 78.5 252.8 78.9 260 78.9L260 -30L-30 -30Z" fill="#3434a8" fill-opacity="0.6839999999999999" filter="url(#b2)"/><path d="M-30 95.2C-23.7 95.2 -2.2 95 7.8 95.2C17.7 95.4 22.1 96.5 29.9 96.5C37.7 96.5 46.3 96.1 54.5 95.2C62.8 94.4 71 93 79.2 91.5C87.4 90.1 95.6 87.8 103.8 86.6C112 85.4 120.2 84.9 128.4 84.2C136.6 83.4 144.8 83 153 82.2C161.3 81.3 171.1 80.2 177.7 79C184.2 77.8 185.9 76.1 192.4 75C199 74 205.8 73 217.1 72.6C228.3 72.2 252.8 72.6 260 72.6L260 -30L-30 -30Z" fill="#35bfe0" filter="url(#b2)"/><path d="M-30 89C-23.7 89 -2.2 88.8 7.8 89C17.7 89.2 22.1 90.3 29.9 90.3C37.7 90.3 46.3 89.9 54.5 89C62.8 88.2 71 86.8 79.2 85.3C87.4 83.9 95.6 81.6 103.8 80.4C112 79.2 120.2 78.7 128.4 78C136.6 77.2 144.8 76.8 153 76C161.3 75.1 171.1 74 177.7 72.8C184.2 71.6 185.9 69.9 192.4 68.8C199 67.8 205.8 66.8 217.1 66.4C228.3 66 252.8 66.4 260 66.4L260 -30L-30 -30Z" fill="#58bc30" filter="url(#b3)"/><path d="M-30 55.8C-23.7 55.8 -4.3 55.5 7.8 55.8C19.8 56.1 30.3 57 42.2 57.5C54.1 58 66.9 59 79.2 59C91.5 59 103.8 57.4 116.1 57.5C128.4 57.6 136.2 59.4 153 59.5C169.9 59.6 199.2 58.5 217.1 58.3C234.9 58 252.8 58.3 260 58.3L260 -30L-30 -30Z" fill="#94d038" fill-opacity="0.95" filter="url(#b6)"/><path d="M74.2 27.5C78.8 23.8 93.9 25 103.8 25C113.6 25 127.6 23.8 133.3 27.5C139.1 31.2 139.9 42 138.3 47.2C136.6 52.3 130.9 56.6 123.5 58.3C116.1 59.9 101.7 58.9 93.9 57C86.2 55.2 80 52.1 76.7 47.2C73.4 42.2 69.7 31.2 74.2 27.5Z" fill="#bcdc3a" fill-opacity="0.95" filter="url(#b5)"/><path d="M113.6 22.5C119 19.7 134.2 22.5 153 22.5C171.9 22.5 214.6 17.2 226.9 22.5C239.2 27.9 231 48.7 226.9 54.6C222.8 60.4 210.5 57 202.3 57.5C194.1 58 185.9 57.8 177.7 57.5C169.5 57.2 160.4 56.7 153 55.8C145.7 54.9 138.7 54.8 133.3 52.1C128 49.4 124.3 44.7 121 39.8C117.8 34.9 108.3 25.4 113.6 22.5Z" fill="#e8d432" filter="url(#b4)"/><path d="M143.2 25C156.7 23 213 20.7 226.9 25C240.9 29.3 231 46.4 226.9 50.9C222.8 55.4 210.5 51.9 202.3 52.1C194.1 52.3 185.1 52.7 177.7 52.1C170.3 51.5 163.3 50.9 158 48.4C152.6 45.9 148.1 41.2 145.7 37.3C143.2 33.4 129.7 27.1 143.2 25Z" fill="#f0a024" filter="url(#b5)"/><path d="M-30 29.9C-23.7 29.9 -10.4 29.9 7.8 29.9C26 29.9 55 29.9 79.2 29.9C103.4 29.9 130.1 29.9 153 29.9C176 29.9 199.2 29.9 217.1 29.9C234.9 29.9 252.8 29.9 260 29.9L260 -30L-30 -30Z" fill="#a8d438" fill-opacity="0.6" filter="url(#b3)"/></g><g clip-path="url(#cTop)"><rect x="0" y="0" width="230" height="30" fill="#66bc32"/><path d="M103.8 5.3C111.2 3.9 144 3.7 153 4.8C162.1 6 165.4 10.8 158 12.2C150.6 13.6 117.8 14.3 108.7 13.2C99.7 12 96.4 6.7 103.8 5.3Z" fill="#e8c82e" fill-opacity="0.9" filter="url(#b2)"/><path d="M32.4 17.6C30.7 15.4 36.9 12.8 44.7 12.2C52.5 11.6 68.5 13.8 79.2 13.9C89.8 14.1 99.7 13.9 108.7 13.2C117.8 12.5 126.8 9.6 133.3 9.7C139.9 9.9 141.6 12.5 148.1 13.9C154.7 15.3 162.9 17.2 172.7 18.1C182.6 19.1 201.1 18 207.2 19.6C213.4 21.2 215.4 26.1 209.7 27.5C203.9 28.9 183.8 28.5 172.7 28C161.7 27.5 154.7 24.8 143.2 24.5C131.7 24.2 118.6 26.1 103.8 26.2C89 26.4 66.5 26.9 54.5 25.5C42.6 24.1 34 19.8 32.4 17.6Z" fill="#f0b428" filter="url(#b1)"/><path d="M37.3 18.1C36.1 16.6 40.2 14.5 47.2 14.2C54.1 13.8 68.9 15.7 79.2 15.9C89.4 16.1 99.7 16.4 108.7 15.7C117.8 15 127.2 11.7 133.3 11.7C139.5 11.7 139.9 14.3 145.7 15.7C151.4 17 158.8 19.1 167.8 20.1C176.9 21.1 194.1 20.7 199.8 21.6C205.6 22.4 206.8 24.4 202.3 25C197.8 25.7 182.2 25.9 172.7 25.5C163.3 25.1 157.2 22.8 145.7 22.5C134.2 22.3 119 23.9 103.8 24C88.6 24.2 65.6 24.5 54.5 23.5C43.5 22.5 38.5 19.7 37.3 18.1Z" fill="#d81418" filter="url(#b1)"/></g><g clip-path="url(#cGapLow)"><path d="M102.8 90L103.1 133Q104.8 143 112.25 146.5Q117.7 148.5 119.2 145L119.7 90Z" fill="url(#gStripe)" filter="url(#b1)"/><path d="M103.3 127Q105.8 137 113.25 140T118.7 139" fill="none" stroke="#66dc7a" stroke-width="4" stroke-opacity="0.9" filter="url(#b1)"/><path d="M103.2 133Q105.3 142.5 112.25 145.5T118.7 144" fill="none" stroke="#ffe6ee" stroke-width="4.2" filter="url(#b1)"/><path d="M104.3 138Q106.8 145 112.75 147.2T118.2 145.5" fill="none" stroke="#ff7aa8" stroke-width="2" stroke-opacity="0.9" filter="url(#b1)"/></g><ellipse cx="180.5" cy="112" rx="1.8" ry="20" fill="#48d8a0" fill-opacity="0.8" filter="url(#b2)"/><ellipse cx="186" cy="110" rx="4" ry="24" fill="#8c84e6" fill-opacity="0.4" filter="url(#b4)"/><use href="#frame"/></g>
<g transform="translate(244.6,607)"><use href="#base"/><use href="#towers"/><g clip-path="url(#cFront)"><path d="M-30 123.3C-23.7 123.3 -2.7 123.7 7.7 123.3C18.1 122.9 24.1 122.5 32.3 120.8C40.5 119.2 48.8 115.9 57 113.5C65.2 111 74.2 107.9 81.6 106.1C89 104.2 95.1 103.4 101.3 102.4C107.4 101.4 111.5 100.7 118.5 99.9C125.5 99.1 134.9 98.3 143.1 97.5C151.4 96.6 161.6 96 167.8 95C173.9 94 176 92.7 180.1 91.3C184.2 89.9 185.6 87.6 192.4 86.4C199.2 85.1 209.4 84.3 220.7 83.9C232 83.5 253.5 83.9 260 83.9L260 -30L-30 -30Z" fill="#8c84e6" fill-opacity="0.32" filter="url(#b5)"/><path d="M-30 116.3C-23.7 116.3 -2.7 116.7 7.7 116.3C18.1 115.9 24.1 115.5 32.3 113.8C40.5 112.2 48.8 108.9 57 106.5C65.2 104 74.2 100.9 81.6 99.1C89 97.2 95.1 96.4 101.3 95.4C107.4 94.4 111.5 93.7 118.5 92.9C125.5 92.1 134.9 91.3 143.1 90.5C151.4 89.6 161.6 89 167.8 88C173.9 87 176 85.7 180.1 84.3C184.2 82.9 185.6 80.6 192.4 79.4C199.2 78.1 209.4 77.3 220.7 76.9C232 76.5 253.5 76.9 260 76.9L260 -30L-30 -30Z" fill="#3434a8" fill-opacity="0.6839999999999999" filter="url(#b2)"/><path d="M-30 110C-23.7 110 -2.7 110.4 7.7 110C18.1 109.6 24.1 109.2 32.3 107.5C40.5 105.9 48.8 102.6 57 100.2C65.2 97.7 74.2 94.6 81.6 92.8C89 90.9 95.1 90.1 101.3 89.1C107.4 88.1 111.5 87.4 118.5 86.6C125.5 85.8 134.9 85 143.1 84.2C151.4 83.3 161.6 82.7 167.8 81.7C173.9 80.7 176 79.4 180.1 78C184.2 76.6 185.6 74.3 192.4 73.1C199.2 71.8 209.4 71 220.7 70.6C232 70.2 253.5 70.6 260 70.6L260 -30L-30 -30Z" fill="#35bfe0" filter="url(#b2)"/><path d="M-30 103.8C-23.7 103.8 -2.7 104.2 7.7 103.8C18.1 103.4 24.1 103 32.3 101.3C40.5 99.7 48.8 96.4 57 94C65.2 91.5 74.2 88.4 81.6 86.6C89 84.7 95.1 83.9 101.3 82.9C107.4 81.9 111.5 81.2 118.5 80.4C125.5 79.6 134.9 78.8 143.1 78C151.4 77.1 161.6 76.5 167.8 75.5C173.9 74.5 176 73.2 180.1 71.8C184.2 70.4 185.6 68.1 192.4 66.9C199.2 65.6 209.4 64.8 220.7 64.4C232 64 253.5 64.4 260 64.4L260 -30L-30 -30Z" fill="#58bc30" filter="url(#b3)"/><path d="M-30 66.9C-23.7 66.9 -2.7 66.7 7.7 66.9C18.1 67.1 22.1 68.1 32.3 68.1C42.6 68.1 58.2 67.5 69.3 66.9C80.4 66.3 90.6 64.4 98.8 64.4C107 64.4 98.2 67.3 118.5 66.9C138.8 66.5 197.1 62.8 220.7 61.9C244.3 61.1 253.5 61.9 260 61.9L260 -30L-30 -30Z" fill="#8ccc36" fill-opacity="0.95" filter="url(#b6)"/><path d="M89 25C94.3 22.5 116.1 21.3 123.4 25C130.8 28.7 132.5 40.2 133.3 47.2C134.1 54.2 132.1 63.2 128.4 66.9C124.7 70.6 116.1 71 111.1 69.3C106.2 67.7 102.1 61.9 98.8 57C95.5 52.1 93.1 45.1 91.4 39.8C89.8 34.5 83.6 27.5 89 25Z" fill="#c4de3a" fill-opacity="0.95" filter="url(#b5)"/><path d="M118.5 22.5C135.8 19.7 206.8 16 224.4 22.5C242.1 29.1 229.7 55 224.4 61.9C219.1 68.9 201.8 63.6 192.4 64.4C183 65.2 176 66.5 167.8 66.9C159.6 67.3 149.7 68.5 143.1 66.9C136.6 65.2 132.1 61.5 128.4 57C124.7 52.5 122.6 45.5 121 39.8C119.3 34 101.3 25.4 118.5 22.5Z" fill="#e8cc30" filter="url(#b4)"/><path d="M128.4 25C143.1 20.9 208.4 19.7 224.4 25C240.4 30.3 229.7 51.3 224.4 57C219.1 62.8 201.8 58.7 192.4 59.5C183 60.3 175.2 61.7 167.8 61.9C160.4 62.2 153.4 62.8 148.1 60.7C142.7 58.7 139 55.6 135.8 49.6C132.5 43.7 113.6 29.1 128.4 25Z" fill="#f09a22" filter="url(#b5)"/><ellipse cx="162.8" cy="50.9" rx="22" ry="9" fill="#f08420" fill-opacity="0.8" filter="url(#b4)"/></g><g clip-path="url(#cTop)"><rect x="0" y="0" width="230" height="30" fill="#5cba32"/><path d="M34.8 17.6C33.2 15.4 51.2 6.5 59.4 4.1C67.6 1.7 79.1 1.9 84 3.3C89 4.8 91.4 10.3 89 12.7C86.5 15.1 78.3 16.8 69.3 17.6C60.2 18.4 36.4 19.9 34.8 17.6Z" fill="#e83a1c" filter="url(#b2)"/><path d="M81.6 3.3C89 1.9 125.5 2.2 133.3 3.3C141.1 4.5 135.8 8.8 128.4 10.2C121 11.7 96.8 13.4 89 12.2C81.2 11.1 74.2 4.8 81.6 3.3Z" fill="#c8d834" filter="url(#b2)"/><path d="M101.3 12.2C102.9 10.6 131.2 8.4 143.1 7.8C155 7.1 164.5 7 172.7 8.3C180.9 9.5 193.2 13.6 192.4 15.2C191.6 16.7 177.6 17.3 167.8 17.6C157.9 18 144.4 18 133.3 17.1C122.2 16.2 99.6 13.8 101.3 12.2Z" fill="#f0b428" filter="url(#b1)"/><path d="M106.2 12.7C107.9 11.6 132.5 9.7 143.1 9.3C153.8 8.8 162.8 8.8 170.2 9.7C177.6 10.6 188.3 13.6 187.5 14.7C186.7 15.7 174.3 16 165.3 16.1C156.3 16.3 143.1 16.2 133.3 15.7C123.4 15.1 104.6 13.8 106.2 12.7Z" fill="#d81418" filter="url(#b1)"/><path d="M20 23.8C20 21.6 31.5 18.5 39.7 17.6C47.9 16.8 58.2 18.6 69.3 18.6C80.4 18.6 95.5 17.5 106.2 17.6C116.9 17.8 125.5 18.6 133.3 19.6C141.1 20.6 150.5 22.1 153 23.8C155.5 25.5 155.9 28.7 148.1 29.9C140.3 31.2 119.3 31.4 106.2 31.4C93.1 31.4 80.4 30.1 69.3 29.9C58.2 29.8 47.9 31.5 39.7 30.4C31.5 29.4 20 25.9 20 23.8Z" fill="#f0a428" filter="url(#b1)"/><path d="M27.4 24C27.4 22.5 35.2 20.2 42.2 19.6C49.2 19 58.6 20.6 69.3 20.6C79.9 20.6 95.9 19.4 106.2 19.6C116.5 19.8 124.1 20.7 130.8 21.6C137.6 22.5 144.8 23.9 146.8 25C148.9 26.1 149.9 27.2 143.1 28C136.4 28.7 118.5 29.4 106.2 29.4C93.9 29.4 79.9 28.1 69.3 28C58.6 27.8 49.2 29.1 42.2 28.5C35.2 27.8 27.4 25.5 27.4 24Z" fill="#d81418" filter="url(#b1)"/></g><g clip-path="url(#cGapLow)"><path d="M102.8 88L103.1 133.5Q104.8 143.5 112.25 147.0Q117.7 149.0 119.2 145.5L119.7 88Z" fill="#b2d0d6" filter="url(#b1)"/><ellipse cx="112.8" cy="120.2" rx="3.6" ry="16.2" fill="#f07088" fill-opacity="0.9" filter="url(#b2)" transform="rotate(-6 112.8 120.2)"/><ellipse cx="108.8" cy="130.2" rx="2.2" ry="9" fill="#f4a070" fill-opacity="0.6" filter="url(#b2)" transform="rotate(8 108.8 130.2)"/><ellipse cx="115.8" cy="108" rx="2.2" ry="9" fill="#e86a9a" fill-opacity="0.7" filter="url(#b2)"/><path d="M103.3 127.5Q105.8 137.5 113.25 140.5T118.7 139.5" fill="none" stroke="#66dc7a" stroke-width="4" stroke-opacity="0.9" filter="url(#b1)"/><path d="M103.2 133.5Q105.3 143.0 112.25 146.0T118.7 144.5" fill="none" stroke="#ffe6ee" stroke-width="4.2" filter="url(#b1)"/><path d="M104.3 138.5Q106.8 145.5 112.75 147.7T118.2 146.0" fill="none" stroke="#ff7aa8" stroke-width="2" stroke-opacity="0.9" filter="url(#b1)"/></g><ellipse cx="182.5" cy="110" rx="1.6" ry="16" fill="#48d890" fill-opacity="0.8" filter="url(#b2)"/><ellipse cx="184" cy="118" rx="1.2" ry="8" fill="#f04a60" fill-opacity="0.7" filter="url(#b1)"/><use href="#frame"/></g>
<g transform="translate(503.8,607.7)"><use href="#base"/><use href="#towers"/><g clip-path="url(#cFront)"><path d="M-30 110.3C-24 110.3 -4.5 110.3 6 110.3C16.6 110.3 24.5 110.7 33.1 110.3C41.8 109.9 49.6 108.7 57.8 107.8C66 107 75 106.4 82.4 105.4C89.8 104.3 95.1 102.9 102.1 101.7C109.1 100.4 117.3 98.8 124.2 98C131.2 97.2 136.6 97.4 143.9 96.8C151.3 96.1 160.4 95.1 168.6 94.3C176.8 93.5 184.4 92.7 193.2 91.8C202 91 210.4 89.8 221.5 89.4C232.6 89 253.6 89.4 260 89.4L260 -30L-30 -30Z" fill="#8c84e6" fill-opacity="0.32" filter="url(#b5)"/><path d="M-30 103.3C-24 103.3 -4.5 103.3 6 103.3C16.6 103.3 24.5 103.7 33.1 103.3C41.8 102.9 49.6 101.7 57.8 100.8C66 100 75 99.4 82.4 98.4C89.8 97.3 95.1 95.9 102.1 94.7C109.1 93.4 117.3 91.8 124.2 91C131.2 90.2 136.6 90.4 143.9 89.8C151.3 89.1 160.4 88.1 168.6 87.3C176.8 86.5 184.4 85.7 193.2 84.8C202 84 210.4 82.8 221.5 82.4C232.6 82 253.6 82.4 260 82.4L260 -30L-30 -30Z" fill="#3434a8" fill-opacity="0.6839999999999999" filter="url(#b2)"/><path d="M-30 97C-24 97 -4.5 97 6 97C16.6 97 24.5 97.4 33.1 97C41.8 96.6 49.6 95.4 57.8 94.5C66 93.7 75 93.1 82.4 92.1C89.8 91 95.1 89.6 102.1 88.4C109.1 87.1 117.3 85.5 124.2 84.7C131.2 83.9 136.6 84.1 143.9 83.5C151.3 82.8 160.4 81.8 168.6 81C176.8 80.2 184.4 79.4 193.2 78.5C202 77.7 210.4 76.5 221.5 76.1C232.6 75.7 253.6 76.1 260 76.1L260 -30L-30 -30Z" fill="#35bfe0" filter="url(#b2)"/><path d="M-30 90.8C-24 90.8 -4.5 90.8 6 90.8C16.6 90.8 24.5 91.2 33.1 90.8C41.8 90.4 49.6 89.2 57.8 88.3C66 87.5 75 86.9 82.4 85.9C89.8 84.8 95.1 83.4 102.1 82.2C109.1 80.9 117.3 79.3 124.2 78.5C131.2 77.7 136.6 77.9 143.9 77.3C151.3 76.6 160.4 75.6 168.6 74.8C176.8 74 184.4 73.2 193.2 72.3C202 71.5 210.4 70.3 221.5 69.9C232.6 69.5 253.6 69.9 260 69.9L260 -30L-30 -30Z" fill="#58bc30" filter="url(#b3)"/><path d="M-30 74.8C-24 74.8 -4.5 74.4 6 74.8C16.6 75.2 24.5 77.3 33.1 77.3C41.8 77.3 49.6 75 57.8 74.8C66 74.6 75 76.4 82.4 76C89.8 75.6 95.1 73.8 102.1 72.3C109.1 70.9 117.3 67.8 124.2 67.4C131.2 67 136.6 70.1 143.9 69.9C151.3 69.7 160.4 67 168.6 66.2C176.8 65.4 184.4 65.6 193.2 64.9C202 64.3 210.4 62.9 221.5 62.5C232.6 62.1 253.6 62.5 260 62.5L260 -30L-30 -30Z" fill="#bcdc3a" filter="url(#b4)"/><path d="M-30 53.9C-24 53.9 -4.5 53 6 53.9C16.6 54.7 24.5 58.4 33.1 58.8C41.8 59.2 49.6 56.1 57.8 56.3C66 56.5 75 59.8 82.4 60C89.8 60.2 95.1 58.6 102.1 57.6C109.1 56.5 117.3 53.7 124.2 53.9C131.2 54.1 136.6 58.2 143.9 58.8C151.3 59.4 160.4 57.8 168.6 57.6C176.8 57.3 184.4 58 193.2 57.6C202 57.1 210.4 55.5 221.5 55.1C232.6 54.7 253.6 55.1 260 55.1L260 -30L-30 -30Z" fill="#e6e634" filter="url(#b5)"/><path d="M3.6 34.2C10.6 29 34 33.3 45.4 35.4C56.9 37.4 68.4 41.3 72.5 46.5C76.6 51.6 76.6 62.1 70.1 66.2C63.5 70.3 44.2 71.1 33.1 71.1C22.1 71.1 8.5 72.3 3.6 66.2C-1.3 60 -3.4 39.3 3.6 34.2Z" fill="#c6e038" fill-opacity="0.9" filter="url(#b6)"/><path d="M143.9 24.3C157.1 22.3 211.7 19.2 225.2 24.3C238.8 29.4 230.5 49.7 225.2 55.1C219.9 60.5 202.6 56.7 193.2 56.8C183.8 56.9 175.1 57.1 168.6 55.8C162 54.5 157.5 52.1 153.8 48.9C150.1 45.7 148.1 40.7 146.4 36.6C144.8 32.5 130.8 26.4 143.9 24.3Z" fill="#f2b428" filter="url(#b5)"/><path d="M183.3 24.3C189.1 22.3 218.2 21.4 225.2 24.3C232.2 27.2 228.5 38.5 225.2 41.5C221.9 44.6 211.3 43.6 205.5 42.8C199.8 42 194.4 39.7 190.7 36.6C187 33.5 177.6 26.4 183.3 24.3Z" fill="#ee6a22" fill-opacity="0.95" filter="url(#b4)"/><path d="M8.5 21.8C14.7 19.8 38.9 20.2 45.4 21.8C52 23.5 51.2 29.4 47.9 31.7C44.6 34 32.3 35 25.7 35.4C19.2 35.8 11.4 36.4 8.5 34.2C5.6 31.9 2.4 23.9 8.5 21.8Z" fill="#f0a028" fill-opacity="0.8" filter="url(#b4)"/><path d="M65.1 21.8C77.5 20.2 131.2 20.2 143.9 21.8C156.7 23.5 147.6 29.4 141.5 31.7C135.3 34 118.9 35.4 107 35.4C95.1 35.4 77.1 34 70.1 31.7C63.1 29.4 52.8 23.5 65.1 21.8Z" fill="#f0b030" fill-opacity="0.7" filter="url(#b4)"/></g><g clip-path="url(#cTop)"><rect x="0" y="0" width="230" height="30" fill="#6cbe32"/><path d="M57.8 3.4C65.1 1.9 90.6 2.6 107 2.6C123.4 2.6 146.8 2.2 156.3 3.4C165.7 4.5 171.9 8.2 163.6 9.5C155.4 10.9 123.8 11.2 107 11.5C90.2 11.8 70.9 12.9 62.7 11.5C54.5 10.2 50.4 4.9 57.8 3.4Z" fill="#c8dc36" fill-opacity="0.9" filter="url(#b2)"/><path d="M11 25.5C11 22.9 24.9 15.6 33.1 13.2C41.3 10.9 50 11.3 60.2 11.5C70.5 11.7 76.6 14.7 94.7 14.5C112.8 14.2 153.8 9.6 168.6 10C183.3 10.4 182.5 14.1 183.3 16.9C184.2 19.7 184.2 24.7 173.5 26.8C162.8 28.8 136.6 28.9 119.3 29.2C102.1 29.6 84.4 28.7 70.1 28.7C55.7 28.7 43 29.8 33.1 29.2C23.3 28.7 11 28.2 11 25.5Z" fill="#f0a428" filter="url(#b2)"/><path d="M33.1 16.9C36.8 15.2 47.5 13.2 57.8 13C68 12.8 88.5 14.5 94.7 15.7C100.9 16.8 100.9 18.9 94.7 19.9C88.5 20.8 67.6 20.8 57.8 21.4C47.9 21.9 39.7 23.8 35.6 23.1C31.5 22.3 29.4 18.6 33.1 16.9Z" fill="#e0301a" filter="url(#b1)"/><path d="M77.5 23.8C78.3 21.7 90.2 16.5 99.6 14.5C109.1 12.4 122.6 11.8 134.1 11.5C145.6 11.2 161.6 11.4 168.6 12.5C175.5 13.6 178 16.6 176 18.2C173.9 19.7 163.2 20.5 156.3 21.8C149.3 23.2 144.4 25.4 134.1 26.3C123.8 27.2 104.1 27.7 94.7 27.3C85.3 26.9 76.6 26 77.5 23.8Z" fill="#d81418" filter="url(#b1)"/></g><g clip-path="url(#cGapLow)"><path d="M102.8 88L103.1 133Q104.8 143 112.25 146.5Q117.7 148.5 119.2 145L119.7 88Z" fill="#b2d0d6" filter="url(#b1)"/><ellipse cx="112.8" cy="120" rx="3.6" ry="16" fill="#f07088" fill-opacity="0.9" filter="url(#b2)" transform="rotate(-6 112.8 120)"/><ellipse cx="108.8" cy="130" rx="2.2" ry="9" fill="#f4a070" fill-opacity="0.6" filter="url(#b2)" transform="rotate(8 108.8 130)"/><ellipse cx="115.8" cy="108" rx="2.2" ry="9" fill="#e86a9a" fill-opacity="0.7" filter="url(#b2)"/><path d="M103.3 127Q105.8 137 113.25 140T118.7 139" fill="none" stroke="#66dc7a" stroke-width="4" stroke-opacity="0.9" filter="url(#b1)"/><path d="M103.2 133Q105.3 142.5 112.25 145.5T118.7 144" fill="none" stroke="#ffe6ee" stroke-width="4.2" filter="url(#b1)"/><path d="M104.3 138Q106.8 145 112.75 147.2T118.2 145.5" fill="none" stroke="#ff7aa8" stroke-width="2" stroke-opacity="0.9" filter="url(#b1)"/></g><ellipse cx="182.5" cy="112" rx="1.8" ry="18" fill="#a8c8f0" fill-opacity="0.7" filter="url(#b2)"/><ellipse cx="184.5" cy="120" rx="1.2" ry="8" fill="#f07a90" fill-opacity="0.6" filter="url(#b1)"/><use href="#frame"/></g>

<rect x="872.2" y="108" width="43.8" height="617.5" fill="url(#gBar)"/>
<text transform="translate(31.1,282.8) scale(1.033,1)" font-size="30" >(a) <tspan font-style="italic" dx="1.5">t</tspan><tspan dx="-2.8">=</tspan><tspan dx="1.8">0.1</tspan><tspan dx="0.8"> s</tspan></text><text transform="translate(290.1,282.8) scale(1.033,1)" font-size="30" >(b) <tspan font-style="italic" dx="1.5">t</tspan><tspan dx="-2.8">=</tspan><tspan dx="1.8">1.0</tspan><tspan dx="0.8"> s</tspan></text><text transform="translate(544.1,282.8) scale(1.033,1)" font-size="30" >(c) <tspan font-style="italic" dx="1.5">t</tspan><tspan dx="-2.8">=</tspan><tspan dx="1.8">1.2</tspan><tspan dx="0.8"> s</tspan></text><text transform="translate(31.1,585) scale(1.033,1)" font-size="30" >(d) <tspan font-style="italic" dx="1.5">t</tspan><tspan dx="-2.8">=</tspan><tspan dx="1.8">2.2</tspan><tspan dx="0.8"> s</tspan></text><text transform="translate(290.1,585) scale(1.033,1)" font-size="30" >(e) <tspan font-style="italic" dx="1.5">t</tspan><tspan dx="-2.8">=</tspan><tspan dx="1.8">4.0</tspan><tspan dx="0.8"> s</tspan></text><text transform="translate(544.1,585) scale(1.033,1)" font-size="30" >(f) <tspan font-style="italic" dx="1.5">t</tspan><tspan dx="-2.8">=</tspan><tspan dx="1.8">10.0</tspan><tspan dx="0.8"> s</tspan></text><text transform="translate(31.1,886) scale(1.033,1)" font-size="30" >(g) <tspan font-style="italic" dx="1.5">t</tspan><tspan dx="-2.8">=</tspan><tspan dx="1.8">20.0</tspan><tspan dx="0.8"> s</tspan></text><text transform="translate(290.1,886) scale(1.033,1)" font-size="30" >(h) <tspan font-style="italic" dx="1.5">t</tspan><tspan dx="-2.8">=</tspan><tspan dx="1.8">40.0</tspan><tspan dx="0.8"> s</tspan></text><text transform="translate(544.1,886) scale(1.033,1)" font-size="30" >(i) <tspan font-style="italic" dx="1.5">t</tspan><tspan dx="-2.8">=</tspan><tspan dx="1.8">60.0</tspan><tspan dx="0.8"> s</tspan></text><text transform="translate(737.2,119.6) scale(1.033,1)" font-size="30">4.0e<tspan font-size="27" dx="2.2" dy="-0.6">×</tspan><tspan dy="0.6" dx="0.6">10</tspan><tspan font-size="16" dy="-10" dx="0.5">4</tspan></text><text transform="translate(737.2,183.9) scale(1.033,1)" font-size="30">3.6e<tspan font-size="27" dx="2.2" dy="-0.6">×</tspan><tspan dy="0.6" dx="0.6">10</tspan><tspan font-size="16" dy="-10" dx="0.5">4</tspan></text><text transform="translate(737.2,248.1) scale(1.033,1)" font-size="30">3.2e<tspan font-size="27" dx="2.2" dy="-0.6">×</tspan><tspan dy="0.6" dx="0.6">10</tspan><tspan font-size="16" dy="-10" dx="0.5">4</tspan></text><text transform="translate(737.2,312.4) scale(1.033,1)" font-size="30">2.8e<tspan font-size="27" dx="2.2" dy="-0.6">×</tspan><tspan dy="0.6" dx="0.6">10</tspan><tspan font-size="16" dy="-10" dx="0.5">4</tspan></text><text transform="translate(737.2,376.7) scale(1.033,1)" font-size="30">2.4e<tspan font-size="27" dx="2.2" dy="-0.6">×</tspan><tspan dy="0.6" dx="0.6">10</tspan><tspan font-size="16" dy="-10" dx="0.5">4</tspan></text><text transform="translate(737.2,440.9) scale(1.033,1)" font-size="30">2.0e<tspan font-size="27" dx="2.2" dy="-0.6">×</tspan><tspan dy="0.6" dx="0.6">10</tspan><tspan font-size="16" dy="-10" dx="0.5">4</tspan></text><text transform="translate(737.2,505.2) scale(1.033,1)" font-size="30">1.6e<tspan font-size="27" dx="2.2" dy="-0.6">×</tspan><tspan dy="0.6" dx="0.6">10</tspan><tspan font-size="16" dy="-10" dx="0.5">4</tspan></text><text transform="translate(737.2,569.5) scale(1.033,1)" font-size="30">1.2e<tspan font-size="27" dx="2.2" dy="-0.6">×</tspan><tspan dy="0.6" dx="0.6">10</tspan><tspan font-size="16" dy="-10" dx="0.5">4</tspan></text><text transform="translate(737.2,633.8) scale(1.033,1)" font-size="30">8.0e<tspan font-size="27" dx="2.2" dy="-0.6">×</tspan><tspan dy="0.6" dx="0.6">10</tspan><tspan font-size="16" dy="-10" dx="0.5">3</tspan></text><text transform="translate(737.2,698.0) scale(1.033,1)" font-size="30">4.0e<tspan font-size="27" dx="2.2" dy="-0.6">×</tspan><tspan dy="0.6" dx="0.6">10</tspan><tspan font-size="16" dy="-10" dx="0.5">3</tspan></text><text transform="translate(843.5,742.4) scale(1.033,1)" font-size="30">0</text><text transform="translate(733.6,52.7) scale(1.033,1)" font-size="30">CO<tspan font-size="16" dy="6.3">2</tspan></text><text x="790.3 822" y="54.3" font-size="29.8" fill="#111" stroke="none" style="font-family:'Liberation Sans','Noto Sans CJK SC',sans-serif;">浓度</text><text transform="translate(853.3,52.7) scale(1.033,1)" font-size="30" letter-spacing="0.3">/ppm</text>
</svg>
</body></html>
